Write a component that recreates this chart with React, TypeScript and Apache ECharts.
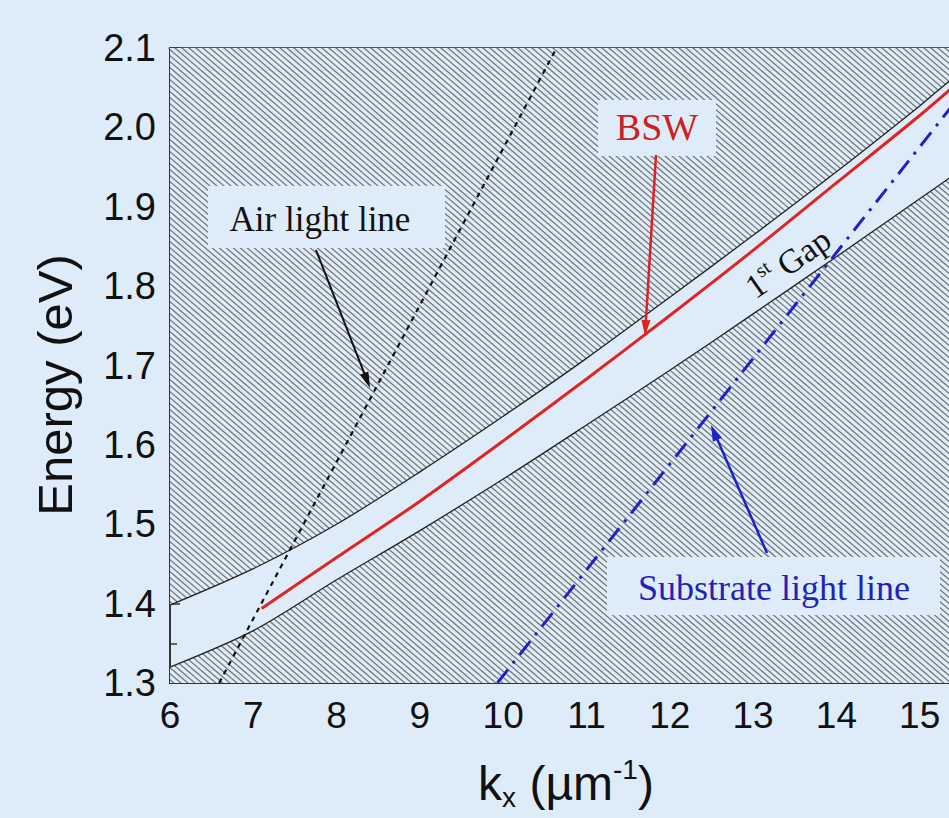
import React, { useEffect, useRef } from "react";
import * as echarts from "echarts";

// ---- data ----
const edgeK = [6, 7, 8, 9, 10, 11, 12, 13, 14, 15, 15.5, 16];
const upperEdgeE = [1.398, 1.444, 1.5, 1.566, 1.636, 1.709, 1.786, 1.864, 1.944, 2.027, 2.07, 2.1];
const lowerEdgeE = [1.32, 1.366, 1.43, 1.492, 1.557, 1.625, 1.694, 1.765, 1.837, 1.91, 1.947, 1.985];
const bswK = [7.1, 8, 9, 10, 11, 12, 13, 14, 15, 15.5];
const bswE = [1.394, 1.458, 1.529, 1.605, 1.683, 1.763, 1.845, 1.93, 2.015, 2.06];
const airK = [6.59, 10.64];
const airE = [1.3, 2.1];
const subK = [9.93, 15.5];
const subE = [1.3, 2.042];
const xTickLabels = ["6", "7", "8", "9", "10", "11", "12", "13", "14", "15"];

const BG = "#deecf9";
const SANS = "'Liberation Sans', Arial, sans-serif";
const SERIF = "'Liberation Serif', 'Times New Roman', serif";

function pairs(xs: number[], ys: number[]) {
  return xs.map((x, i) => [x, ys[i]]);
}

function makeHatch() {
  const W = 28;
  const H = 24;
  const c = document.createElement("canvas");
  c.width = W;
  c.height = H;
  const ctx = c.getContext("2d")!;
  ctx.fillStyle = BG;
  ctx.fillRect(0, 0, W, H);
  ctx.strokeStyle = "#727272";
  ctx.lineWidth = 1.3;
  for (let n = -8; n <= 8; n++) {
    const x0 = n * 7;
    ctx.beginPath();
    ctx.moveTo(x0 - W, -H);
    ctx.lineTo(x0 + 2 * W, 2 * H);
    ctx.stroke();
  }
  return { image: c.toDataURL(), repeat: "repeat", imageWidth: W, imageHeight: H };
}

function arrow(x1: number, y1: number, x2: number, y2: number, color: string, width: number, headLen: number, headW: number) {
  const dx = x2 - x1;
  const dy = y2 - y1;
  const L = Math.hypot(dx, dy);
  const ux = dx / L;
  const uy = dy / L;
  const bx = x2 - ux * headLen;
  const by = y2 - uy * headLen;
  const px = -uy;
  const py = ux;
  return [
    { type: "line", z: 110, shape: { x1, y1, x2: bx + ux * 2, y2: by + uy * 2 }, style: { stroke: color, lineWidth: width } },
    {
      type: "polygon",
      z: 111,
      shape: { points: [[x2, y2], [bx + (px * headW) / 2, by + (py * headW) / 2], [bx - (px * headW) / 2, by - (py * headW) / 2]] },
      style: { fill: color },
    },
  ];
}

export default function App() {
  const ref = useRef<HTMLDivElement>(null);
  useEffect(() => {
    document.body.style.margin = "0";
    const chart = echarts.init(ref.current!, null, { renderer: "svg" });
    const hatch = makeHatch();
    const option: any = {
      animation: false,
      backgroundColor: BG,
      grid: { left: 170, top: 48, width: 833, height: 635, containLabel: false, outerBoundsMode: "none" },
      xAxis: [
        {
          type: "value",
          min: 6,
          max: 16,
          interval: 1,
          position: "bottom",
          axisLine: { show: true, onZero: false, lineStyle: { color: "#333", width: 2 } },
          axisTick: { show: true, inside: true, length: 10, lineStyle: { color: "#333", width: 1.5 } },
          minorTick: { show: true, splitNumber: 2, length: 6, lineStyle: { color: "#333", width: 1.5 } },
          axisLabel: {
            fontSize: 37,
            color: "#111",
            fontFamily: SANS,
            margin: 14,
            formatter: (v: number) => (xTickLabels.includes(String(v)) ? String(v) : ""),
          },
          splitLine: { show: false },
        },
        {
          type: "value",
          min: 6,
          max: 16,
          position: "top",
          axisLine: { show: true, onZero: false, lineStyle: { color: "#555", width: 3 } },
          axisTick: { show: false },
          axisLabel: { show: false },
          splitLine: { show: false },
        },
      ],
      yAxis: {
        type: "value",
        min: 1.3,
        max: 2.1,
        interval: 0.1,
        axisLine: { show: true, onZero: false, lineStyle: { color: "#333", width: 2 } },
        axisTick: { show: true, inside: true, length: 10, lineStyle: { color: "#333", width: 1.5 } },
        minorTick: { show: true, splitNumber: 2, length: 7, lineStyle: { color: "#333", width: 1.5 } },
        axisLabel: { fontSize: 38, color: "#111", fontFamily: SANS, margin: 14, formatter: (v: number) => v.toFixed(1) },
        splitLine: { show: false },
      },
      series: [
        {
          type: "line",
          data: pairs(edgeK, upperEdgeE),
          symbol: "none",
          smooth: 0.3,
          lineStyle: { color: "#222", width: 1.3 },
          areaStyle: { origin: "end", color: hatch, opacity: 1 },
          z: 2,
        },
        {
          type: "line",
          data: pairs(edgeK, lowerEdgeE),
          symbol: "none",
          smooth: 0.3,
          lineStyle: { color: "#222", width: 1.3 },
          areaStyle: { origin: "start", color: hatch, opacity: 1 },
          z: 2,
        },
        {
          type: "line",
          data: pairs(bswK, bswE),
          symbol: "none",
          smooth: 0.3,
          lineStyle: { color: "#e02424", width: 3 },
          z: 4,
        },
        {
          type: "line",
          data: pairs(airK, airE),
          symbol: "none",
          lineStyle: { color: "#111", width: 2.2, type: [5, 5] },
          z: 5,
        },
        {
          type: "line",
          data: pairs(subK, subE),
          symbol: "none",
          lineStyle: { color: "#1f22c8", width: 3, type: [17, 8, 3, 8] },
          z: 5,
        },
      ],
      graphic: [
        { type: "rect", z: 100, shape: { x: 208, y: 186, width: 237, height: 62 }, style: { fill: BG } },
        { type: "rect", z: 100, shape: { x: 598, y: 100, width: 118, height: 56 }, style: { fill: BG } },
        { type: "rect", z: 100, shape: { x: 607, y: 557, width: 333, height: 58 }, style: { fill: BG } },
        {
          type: "text",
          z: 120,
          x: 320,
          y: 219,
          style: { text: "Air light line", fontSize: 35, fontFamily: SERIF, fill: "#111", align: "center", verticalAlign: "middle", textAlign: "center", textVerticalAlign: "middle" },
        },
        {
          type: "text",
          z: 120,
          x: 657,
          y: 127,
          style: { text: "BSW", fontSize: 38, fontFamily: SERIF, fill: "#cc2222", align: "center", verticalAlign: "middle", textAlign: "center", textVerticalAlign: "middle" },
        },
        {
          type: "text",
          z: 120,
          x: 774,
          y: 588,
          style: { text: "Substrate light line", fontSize: 36, fontFamily: SERIF, fill: "#2222bb", align: "center", verticalAlign: "middle", textAlign: "center", textVerticalAlign: "middle" },
        },
        {
          type: "text",
          z: 120,
          x: 788,
          y: 263,
          rotation: (35 * Math.PI) / 180,
          style: {
            text: "1{s|st} Gap",
            fontSize: 34,
            fontFamily: SERIF,
            fill: "#111",
            lineHeight: 40,
            align: "center",
            verticalAlign: "middle",
            textAlign: "center",
            textVerticalAlign: "middle",
            rich: { s: { fontSize: 20, fontFamily: SERIF, fill: "#111", lineHeight: 18, verticalAlign: "top" } },
          },
        },
        {
          type: "text",
          z: 120,
          x: 55,
          y: 385,
          rotation: Math.PI / 2,
          style: { text: "Energy (eV)", fontSize: 49, fontFamily: SANS, fill: "#111", align: "center", verticalAlign: "middle", textAlign: "center", textVerticalAlign: "middle" },
        },
        {
          type: "text",
          z: 120,
          x: 566,
          y: 783,
          style: {
            text: "k{sub|x} (µm{sup|-1})",
            fontSize: 48,
            fontFamily: SANS,
            fill: "#111",
            lineHeight: 56,
            align: "center",
            verticalAlign: "middle",
            textAlign: "center",
            textVerticalAlign: "middle",
            rich: {
              sub: { fontSize: 28, fontFamily: SANS, fill: "#111", lineHeight: 30, verticalAlign: "bottom" },
              sup: { fontSize: 28, fontFamily: SANS, fill: "#111", lineHeight: 16, verticalAlign: "top" },
            },
          },
        },
        ...arrow(316, 250, 370, 388, "#111", 2, 16, 9),
        ...arrow(656, 155, 645, 336, "#dd2222", 2.5, 16, 9),
        ...arrow(767, 553, 711, 425, "#1f22c8", 2.5, 16, 10),
      ],
    };
    chart.setOption(option);
    return () => chart.dispose();
  }, []);
  return <div ref={ref} style={{ width: 949, height: 818 }} />;
}
